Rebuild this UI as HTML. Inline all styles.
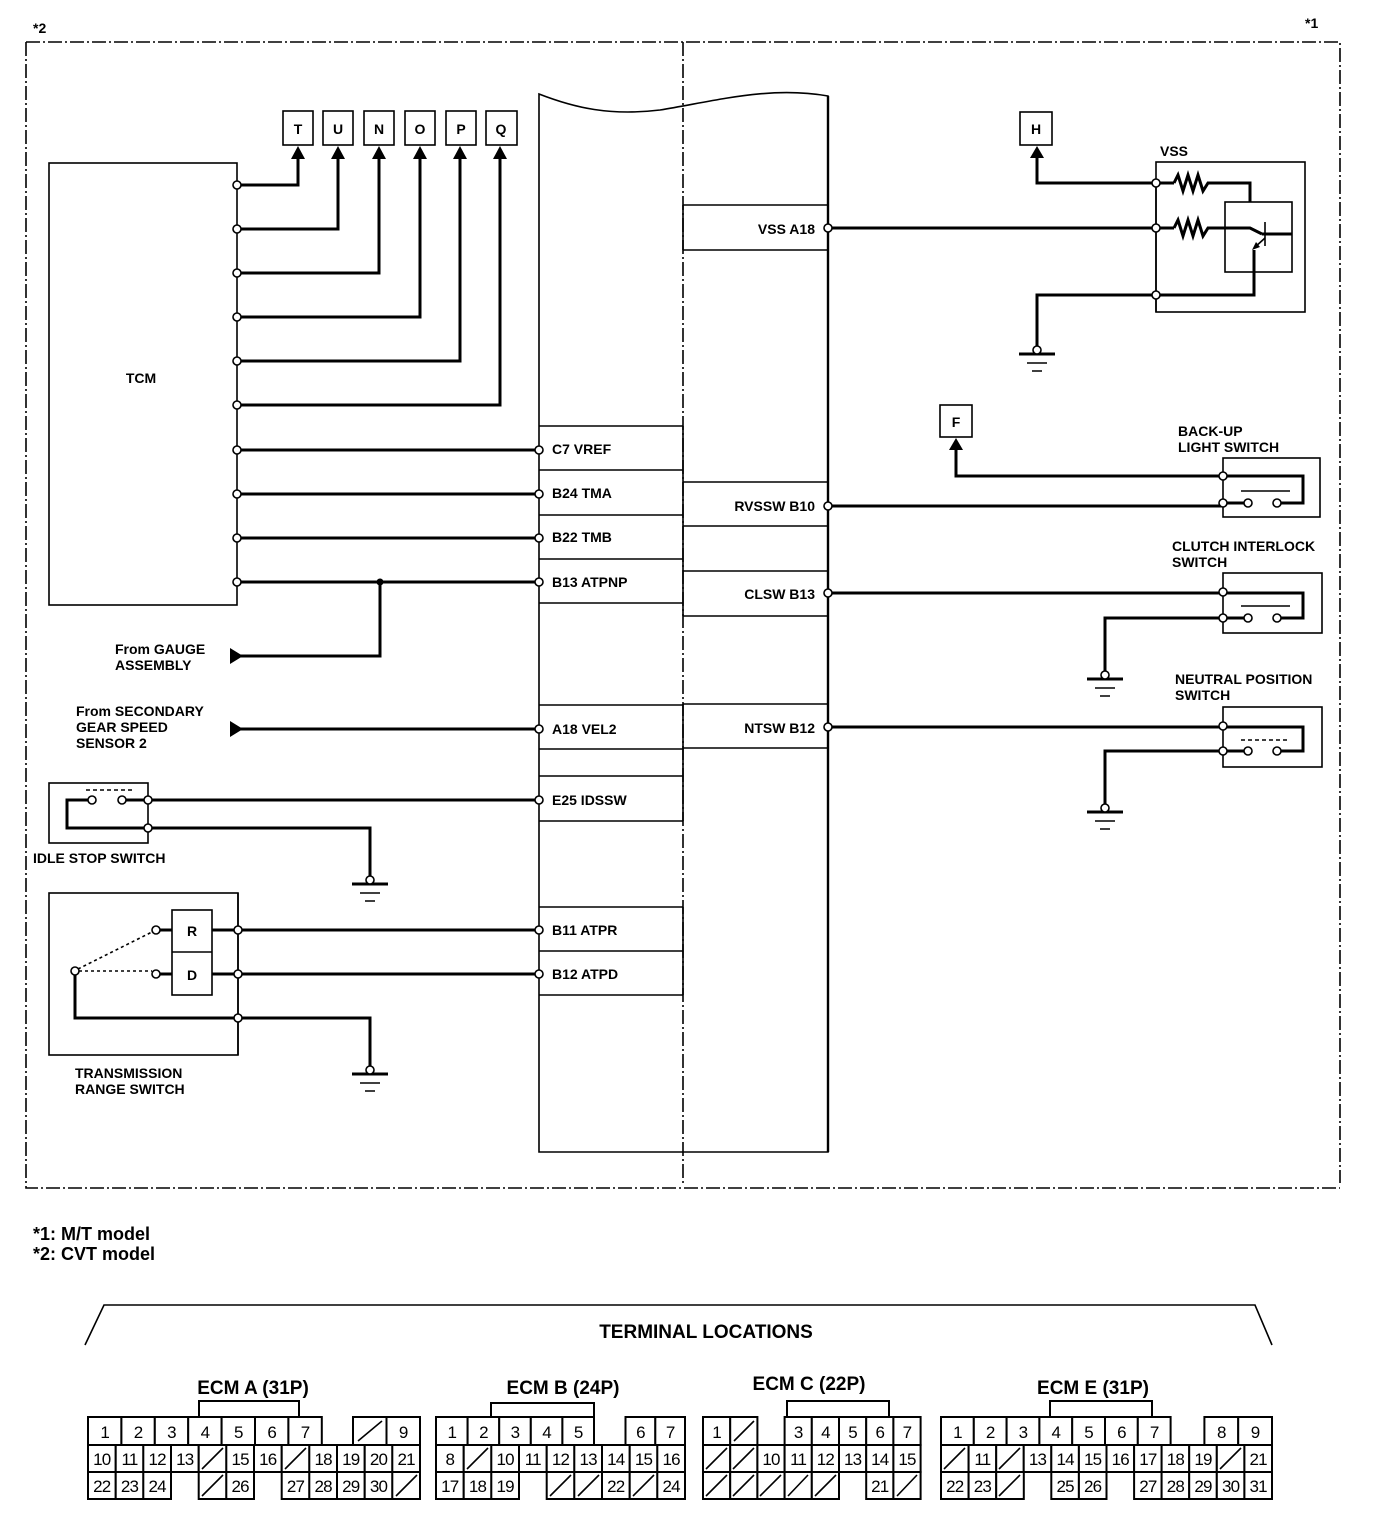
<!DOCTYPE html>
<html><head><meta charset="utf-8"><style>
html,body{margin:0;padding:0;background:#fff;}
svg{display:block;}
text{font-family:"Liberation Sans",Arial,sans-serif;fill:#000;}
.b{font-weight:bold;font-size:14px;}
.c text{font-size:17px;text-anchor:middle;letter-spacing:-0.8px;}
.c rect{fill:#fff;stroke:#000;stroke-width:2;}
.c line{stroke:#000;stroke-width:1.6;}
.w{fill:none;stroke:#000;stroke-width:3;}
.t{fill:none;stroke:#000;stroke-width:1.6;}
.n{fill:#fff;stroke:#000;stroke-width:1.6;}
</style></head><body>
<svg width="1392" height="1540" viewBox="0 0 1392 1540" xmlns="http://www.w3.org/2000/svg">
<!-- outer dashed frame -->
<g fill="none" stroke="#000" stroke-width="1.6" stroke-dasharray="14 3 2 3">
<path d="M26,42 H1340 V1183"/><path d="M26,42 V1188 H1340"/>
<path d="M683,42 V1186"/>
</g>
<text x="33" y="33" class="b">*2</text>
<text x="1305" y="28" class="b">*1</text>

<!-- ECM block -->
<path d="M539,1152 V94 C575,108 610,116 660,110 C720,100 770,86 828,96 V1152 Z" fill="none" stroke="#000" stroke-width="1.6"/>
<line x1="828" y1="96" x2="828" y2="1152" stroke="#000" stroke-width="2.4"/>
<g class="t">
<path d="M539,426 H683 M539,470 H683 M539,515 H683 M539,559 H683 M539,603 H683"/>
<path d="M539,705 H683 M539,749 H683 M539,776 H683 M539,821 H683"/>
<path d="M539,907 H683 M539,951 H683 M539,995 H683"/>
<path d="M683,205 H828 M683,250 H828 M683,482 H828 M683,526 H828 M683,571 H828 M683,616 H828 M683,704 H828 M683,748 H828"/>
<path d="M683,205 V250 M683,482 V616 M683,704 V748 M683,426 V603 M683,705 V821 M683,907 V995"/>
</g>
<g class="b">
<text x="552" y="454">C7 VREF</text>
<text x="552" y="498">B24 TMA</text>
<text x="552" y="542">B22 TMB</text>
<text x="552" y="587">B13 ATPNP</text>
<text x="552" y="734">A18 VEL2</text>
<text x="552" y="805">E25 IDSSW</text>
<text x="552" y="935">B11 ATPR</text>
<text x="552" y="979">B12 ATPD</text>
<text x="815" y="234" text-anchor="end">VSS A18</text>
<text x="815" y="511" text-anchor="end">RVSSW B10</text>
<text x="815" y="599" text-anchor="end">CLSW B13</text>
<text x="815" y="733" text-anchor="end">NTSW B12</text>
</g>

<!-- TCM -->
<rect x="49" y="163" width="188" height="442" class="t"/>
<text x="141" y="383" class="b" text-anchor="middle">TCM</text>
<g class="t" stroke-width="1.6">
<rect x="283" y="111" width="30" height="34"/><rect x="323" y="111" width="30" height="34"/>
<rect x="364" y="111" width="30" height="34"/><rect x="405" y="111" width="30" height="34"/>
<rect x="446" y="111" width="30" height="34"/><rect x="486" y="111" width="31" height="34"/>
</g>
<g class="b" text-anchor="middle">
<text x="298" y="134">T</text><text x="338" y="134">U</text><text x="379" y="134">N</text>
<text x="420" y="134">O</text><text x="461" y="134">P</text><text x="501" y="134">Q</text>
</g>
<g class="w">
<path d="M237,185 H298 V158"/><path d="M237,229 H338 V158"/><path d="M237,273 H379 V158"/>
<path d="M237,317 H420 V158"/><path d="M237,361 H460 V158"/><path d="M237,405 H500 V158"/>
<path d="M237,450 H539 M237,494 H539 M237,538 H539 M237,582 H539"/>
<path d="M380,582 V656 H240"/><path d="M240,729 H539"/>
<path d="M148,800 H539"/><path d="M148,828 H370 V876"/>
<path d="M238,930 H539 M238,974 H539"/><path d="M212,930 H238 M212,974 H238"/>
<path d="M75,975 V1018 H370 V1066"/>
<path d="M160,930 H172 M160,974 H172"/>
</g>
<g fill="#000">
<polygon points="298,146 291,159 305,159"/><polygon points="338,146 331,159 345,159"/>
<polygon points="379,146 372,159 386,159"/><polygon points="420,146 413,159 427,159"/>
<polygon points="460,146 453,159 467,159"/><polygon points="500,146 493,159 507,159"/>
<polygon points="230,648 243,656 230,664"/><polygon points="230,721 243,729 230,737"/>
<circle cx="380" cy="582" r="3.5"/>
</g>
<g class="b">
<text x="115" y="654">From GAUGE</text><text x="115" y="670">ASSEMBLY</text>
<text x="76" y="716">From SECONDARY</text><text x="76" y="732">GEAR SPEED</text><text x="76" y="748">SENSOR 2</text>
<text x="33" y="863">IDLE STOP SWITCH</text>
<text x="75" y="1078">TRANSMISSION</text><text x="75" y="1094">RANGE SWITCH</text>
</g>

<!-- idle stop switch -->
<rect x="49" y="783" width="99" height="60" class="t"/>
<path d="M92,800 H67 V828 H148" class="w"/>
<path d="M122,800 H148" class="w"/>
<line x1="86" y1="790" x2="132" y2="790" stroke="#000" stroke-width="1.6" stroke-dasharray="4 3"/>
<!-- transmission range switch -->
<rect x="49" y="893" width="189" height="162" class="t"/>
<rect x="172" y="910" width="40" height="85" class="t"/>
<line x1="172" y1="952" x2="212" y2="952" stroke="#000" stroke-width="1.6"/>
<text x="192" y="936" class="b" text-anchor="middle">R</text>
<text x="192" y="980" class="b" text-anchor="middle">D</text>
<path d="M78,969 L152,932 M79,971 H152" stroke="#000" stroke-width="1.6" stroke-dasharray="3 3" fill="none"/>
<line x1="238" y1="893" x2="238" y2="1055" stroke="#000" stroke-width="1.6"/>

<!-- grounds -->
<g>
<g transform="translate(370,880)"><path d="M-18,4 H18" stroke="#000" stroke-width="3"/><path d="M-10,13 H10 M-5,21 H5" stroke="#000" stroke-width="1.6"/><circle cx="0" cy="0" r="4" class="n"/></g>
<g transform="translate(370,1070)"><path d="M-18,4 H18" stroke="#000" stroke-width="3"/><path d="M-10,13 H10 M-5,21 H5" stroke="#000" stroke-width="1.6"/><circle cx="0" cy="0" r="4" class="n"/></g>
<g transform="translate(1037,350)"><path d="M-18,4 H18" stroke="#000" stroke-width="3"/><path d="M-10,13 H10 M-5,21 H5" stroke="#000" stroke-width="1.6"/><circle cx="0" cy="0" r="4" class="n"/></g>
<g transform="translate(1105,675)"><path d="M-18,4 H18" stroke="#000" stroke-width="3"/><path d="M-10,13 H10 M-5,21 H5" stroke="#000" stroke-width="1.6"/><circle cx="0" cy="0" r="4" class="n"/></g>
<g transform="translate(1105,808)"><path d="M-18,4 H18" stroke="#000" stroke-width="3"/><path d="M-10,13 H10 M-5,21 H5" stroke="#000" stroke-width="1.6"/><circle cx="0" cy="0" r="4" class="n"/></g>
</g>

<!-- right side: VSS -->
<rect x="1020" y="112" width="32" height="33" class="t"/>
<text x="1036" y="134" class="b" text-anchor="middle">H</text>
<polygon points="1037,146 1030,158 1044,158" fill="#000"/>
<rect x="1156" y="162" width="149" height="150" class="t"/>
<text x="1160" y="156" class="b">VSS</text>
<rect x="1225" y="202" width="67" height="70" class="t"/>
<g class="w">
<path d="M1037,156 V183 H1174"/><path d="M828,228 H1174"/>
<path d="M1174,183 L1178,175 L1183,191 L1188,175 L1193,191 L1198,175 L1203,191 L1208,183 H1250 V202"/>
<path d="M1174,228 L1178,220 L1183,236 L1188,220 L1193,236 L1198,220 L1203,236 L1208,228 H1250 L1262,234"/>
<path d="M1262,234 H1292"/>
<path d="M1156,295 H1254 V250"/>
<path d="M1156,295 H1037 V346"/>
</g>
<line x1="1156" y1="183" x2="1156" y2="312" stroke="#000" stroke-width="1.6"/>
<line x1="1265" y1="222" x2="1265" y2="246" stroke="#000" stroke-width="1.6"/>
<line x1="1265" y1="238" x2="1254" y2="248" stroke="#000" stroke-width="1.6"/>
<polygon points="1252,250 1256,242 1260,247" fill="#000"/>

<!-- back-up light switch -->
<rect x="940" y="405" width="32" height="32" class="t"/>
<text x="956" y="427" class="b" text-anchor="middle">F</text>
<polygon points="956,438 949,450 963,450" fill="#000"/>
<path d="M956,448 V476 H1223" class="w"/>
<text x="1178" y="436" class="b">BACK-UP</text><text x="1178" y="452" class="b">LIGHT SWITCH</text>
<rect x="1223" y="458" width="97" height="59" class="t"/>
<path d="M828,506 H1223 M1223,503 H1248 M1223,476 H1303 V503 H1277" class="w"/>
<line x1="1241" y1="491" x2="1290" y2="491" stroke="#000" stroke-width="1.6"/>

<!-- clutch interlock -->
<text x="1172" y="551" class="b">CLUTCH INTERLOCK</text><text x="1172" y="567" class="b">SWITCH</text>
<rect x="1223" y="573" width="99" height="60" class="t"/>
<path d="M828,593 H1303 V618 H1277 M1248,618 H1105 V671" class="w"/>
<line x1="1241" y1="606" x2="1290" y2="606" stroke="#000" stroke-width="1.6"/>

<!-- neutral position -->
<text x="1175" y="684" class="b">NEUTRAL POSITION</text><text x="1175" y="700" class="b">SWITCH</text>
<rect x="1223" y="707" width="99" height="60" class="t"/>
<path d="M828,727 H1303 V751 H1277 M1248,751 H1105 V804" class="w"/>
<line x1="1241" y1="740" x2="1290" y2="740" stroke="#000" stroke-width="1.6" stroke-dasharray="4 3"/>

<!-- nodes -->
<g class="n">
<circle cx="237" cy="185" r="4"/><circle cx="237" cy="229" r="4"/><circle cx="237" cy="273" r="4"/>
<circle cx="237" cy="317" r="4"/><circle cx="237" cy="361" r="4"/><circle cx="237" cy="405" r="4"/>
<circle cx="237" cy="450" r="4"/><circle cx="237" cy="494" r="4"/><circle cx="237" cy="538" r="4"/><circle cx="237" cy="582" r="4"/>
<circle cx="539" cy="450" r="4"/><circle cx="539" cy="494" r="4"/><circle cx="539" cy="538" r="4"/><circle cx="539" cy="582" r="4"/>
<circle cx="539" cy="729" r="4"/><circle cx="539" cy="800" r="4"/><circle cx="539" cy="930" r="4"/><circle cx="539" cy="974" r="4"/>
<circle cx="828" cy="228" r="4"/><circle cx="828" cy="506" r="4"/><circle cx="828" cy="593" r="4"/><circle cx="828" cy="727" r="4"/>
<circle cx="148" cy="800" r="4"/><circle cx="148" cy="828" r="4"/><circle cx="92" cy="800" r="4"/><circle cx="122" cy="800" r="4"/>
<circle cx="238" cy="930" r="4"/><circle cx="238" cy="974" r="4"/><circle cx="238" cy="1018" r="4"/>
<circle cx="156" cy="930" r="4"/><circle cx="156" cy="974" r="4"/><circle cx="75" cy="971" r="4"/>
<circle cx="1156" cy="183" r="4"/><circle cx="1156" cy="228" r="4"/><circle cx="1156" cy="295" r="4"/>
<circle cx="1223" cy="476" r="4"/><circle cx="1223" cy="503" r="4"/><circle cx="1248" cy="503" r="4"/><circle cx="1277" cy="503" r="4"/>
<circle cx="1223" cy="592" r="4"/><circle cx="1223" cy="618" r="4"/><circle cx="1248" cy="618" r="4"/><circle cx="1277" cy="618" r="4"/>
<circle cx="1223" cy="726" r="4"/><circle cx="1223" cy="751" r="4"/><circle cx="1248" cy="751" r="4"/><circle cx="1277" cy="751" r="4"/>
</g>

<!-- notes -->
<text x="33" y="1240" style="font-weight:bold;font-size:18px">*1: M/T model</text>
<text x="33" y="1260" style="font-weight:bold;font-size:18px">*2: CVT model</text>

<!-- terminal locations -->
<path d="M85,1345 L104,1305 H1255 L1272,1345" fill="none" stroke="#000" stroke-width="1.6"/>
<text x="706" y="1338" text-anchor="middle" style="font-weight:bold;font-size:19px">TERMINAL LOCATIONS</text>
<g style="font-weight:bold;font-size:19px" text-anchor="middle">
<text x="253" y="1394">ECM A (31P)</text><text x="563" y="1394">ECM B (24P)</text>
<text x="809" y="1390">ECM C (22P)</text><text x="1093" y="1394">ECM E (31P)</text>
</g>

<g class="c">
<!-- brackets -->
<rect x="199" y="1401" width="100" height="16"/><rect x="491" y="1403" width="103" height="14"/>
<rect x="787" y="1401" width="102" height="16"/><rect x="1050" y="1401" width="102" height="16"/>

<!-- ECM A row1 -->
<rect x="88" y="1417" width="33.4" height="28"/><text x="104.7" y="1438">1</text>
<rect x="121.4" y="1417" width="33.4" height="28"/><text x="138.1" y="1438">2</text>
<rect x="154.8" y="1417" width="33.4" height="28"/><text x="171.5" y="1438">3</text>
<rect x="188.2" y="1417" width="33.4" height="28"/><text x="204.9" y="1438">4</text>
<rect x="221.6" y="1417" width="33.4" height="28"/><text x="238.3" y="1438">5</text>
<rect x="255" y="1417" width="33.4" height="28"/><text x="271.7" y="1438">6</text>
<rect x="288.4" y="1417" width="33.4" height="28"/><text x="305.1" y="1438">7</text>
<rect x="353" y="1417" width="33.5" height="28"/><line x1="358" y1="1441" x2="382" y2="1421"/>
<rect x="386.5" y="1417" width="33.5" height="28"/><text x="403.2" y="1438">9</text>
<!-- ECM A row2 -->
<rect x="88" y="1445" width="27.7" height="27"/><text x="101.8" y="1465">10</text>
<rect x="115.7" y="1445" width="27.7" height="27"/><text x="129.5" y="1465">11</text>
<rect x="143.3" y="1445" width="27.7" height="27"/><text x="157.2" y="1465">12</text>
<rect x="171" y="1445" width="27.7" height="27"/><text x="184.8" y="1465">13</text>
<rect x="198.7" y="1445" width="27.7" height="27"/><line x1="202" y1="1469" x2="223" y2="1448"/>
<rect x="226.3" y="1445" width="27.7" height="27"/><text x="240.2" y="1465">15</text>
<rect x="254" y="1445" width="27.7" height="27"/><text x="267.8" y="1465">16</text>
<rect x="281.7" y="1445" width="27.7" height="27"/><line x1="285" y1="1469" x2="306" y2="1448"/>
<rect x="309.3" y="1445" width="27.7" height="27"/><text x="323.2" y="1465">18</text>
<rect x="337" y="1445" width="27.7" height="27"/><text x="350.8" y="1465">19</text>
<rect x="364.7" y="1445" width="27.7" height="27"/><text x="378.5" y="1465">20</text>
<rect x="392.3" y="1445" width="27.7" height="27"/><text x="406.2" y="1465">21</text>
<!-- ECM A row3 -->
<rect x="88" y="1472" width="27.7" height="27"/><text x="101.8" y="1492">22</text>
<rect x="115.7" y="1472" width="27.7" height="27"/><text x="129.5" y="1492">23</text>
<rect x="143.3" y="1472" width="27.7" height="27"/><text x="157.2" y="1492">24</text>
<rect x="198.7" y="1472" width="27.7" height="27"/><line x1="202" y1="1496" x2="223" y2="1475"/>
<rect x="226.3" y="1472" width="27.7" height="27"/><text x="240.2" y="1492">26</text>
<rect x="281.7" y="1472" width="27.7" height="27"/><text x="295.5" y="1492">27</text>
<rect x="309.3" y="1472" width="27.7" height="27"/><text x="323.2" y="1492">28</text>
<rect x="337" y="1472" width="27.7" height="27"/><text x="350.8" y="1492">29</text>
<rect x="364.7" y="1472" width="27.7" height="27"/><text x="378.5" y="1492">30</text>
<rect x="392.3" y="1472" width="27.7" height="27"/><line x1="396" y1="1496" x2="417" y2="1475"/>

<!-- ECM B row1 -->
<rect x="436" y="1417" width="31.6" height="28"/><text x="451.8" y="1438">1</text>
<rect x="467.6" y="1417" width="31.6" height="28"/><text x="483.4" y="1438">2</text>
<rect x="499.2" y="1417" width="31.6" height="28"/><text x="515" y="1438">3</text>
<rect x="530.8" y="1417" width="31.6" height="28"/><text x="546.6" y="1438">4</text>
<rect x="562.4" y="1417" width="31.6" height="28"/><text x="578.2" y="1438">5</text>
<rect x="625.5" y="1417" width="29.8" height="28"/><text x="640.4" y="1438">6</text>
<rect x="655.3" y="1417" width="29.7" height="28"/><text x="670.2" y="1438">7</text>
<!-- ECM B row2 -->
<rect x="436" y="1445" width="27.7" height="27"/><text x="449.8" y="1465">8</text>
<rect x="463.7" y="1445" width="27.7" height="27"/><line x1="467" y1="1469" x2="488" y2="1448"/>
<rect x="491.3" y="1445" width="27.7" height="27"/><text x="505.2" y="1465">10</text>
<rect x="519" y="1445" width="27.7" height="27"/><text x="532.8" y="1465">11</text>
<rect x="546.7" y="1445" width="27.7" height="27"/><text x="560.5" y="1465">12</text>
<rect x="574.3" y="1445" width="27.7" height="27"/><text x="588.2" y="1465">13</text>
<rect x="602" y="1445" width="27.7" height="27"/><text x="615.8" y="1465">14</text>
<rect x="629.7" y="1445" width="27.7" height="27"/><text x="643.5" y="1465">15</text>
<rect x="657.3" y="1445" width="27.7" height="27"/><text x="671.2" y="1465">16</text>
<!-- ECM B row3 -->
<rect x="436" y="1472" width="27.7" height="27"/><text x="449.8" y="1492">17</text>
<rect x="463.7" y="1472" width="27.7" height="27"/><text x="477.5" y="1492">18</text>
<rect x="491.3" y="1472" width="27.7" height="27"/><text x="505.2" y="1492">19</text>
<rect x="546.7" y="1472" width="27.7" height="27"/><line x1="550" y1="1496" x2="571" y2="1475"/>
<rect x="574.3" y="1472" width="27.7" height="27"/><line x1="578" y1="1496" x2="599" y2="1475"/>
<rect x="602" y="1472" width="27.7" height="27"/><text x="615.8" y="1492">22</text>
<rect x="629.7" y="1472" width="27.7" height="27"/><line x1="633" y1="1496" x2="654" y2="1475"/>
<rect x="657.3" y="1472" width="27.7" height="27"/><text x="671.2" y="1492">24</text>

<!-- ECM C row1 -->
<rect x="703" y="1417" width="27.2" height="28"/><text x="716.6" y="1438">1</text>
<rect x="730.2" y="1417" width="27.2" height="28"/><line x1="734" y1="1441" x2="754" y2="1421"/>
<rect x="784.6" y="1417" width="27.2" height="28"/><text x="798.2" y="1438">3</text>
<rect x="811.8" y="1417" width="27.2" height="28"/><text x="825.4" y="1438">4</text>
<rect x="839" y="1417" width="27.2" height="28"/><text x="852.6" y="1438">5</text>
<rect x="866.2" y="1417" width="27.2" height="28"/><text x="879.8" y="1438">6</text>
<rect x="893.4" y="1417" width="27.2" height="28"/><text x="907" y="1438">7</text>
<!-- ECM C row2 -->
<rect x="703" y="1445" width="27.2" height="27"/><line x1="706" y1="1469" x2="727" y2="1448"/>
<rect x="730.2" y="1445" width="27.2" height="27"/><line x1="733" y1="1469" x2="754" y2="1448"/>
<rect x="757.4" y="1445" width="27.2" height="27"/><text x="771" y="1465">10</text>
<rect x="784.6" y="1445" width="27.2" height="27"/><text x="798.2" y="1465">11</text>
<rect x="811.8" y="1445" width="27.2" height="27"/><text x="825.4" y="1465">12</text>
<rect x="839" y="1445" width="27.2" height="27"/><text x="852.6" y="1465">13</text>
<rect x="866.2" y="1445" width="27.2" height="27"/><text x="879.8" y="1465">14</text>
<rect x="893.4" y="1445" width="27.2" height="27"/><text x="907" y="1465">15</text>
<!-- ECM C row3 -->
<rect x="703" y="1472" width="27.2" height="27"/><line x1="706" y1="1496" x2="727" y2="1475"/>
<rect x="730.2" y="1472" width="27.2" height="27"/><line x1="733" y1="1496" x2="754" y2="1475"/>
<rect x="757.4" y="1472" width="27.2" height="27"/><line x1="760" y1="1496" x2="781" y2="1475"/>
<rect x="784.6" y="1472" width="27.2" height="27"/><line x1="788" y1="1496" x2="808" y2="1475"/>
<rect x="811.8" y="1472" width="27.2" height="27"/><line x1="815" y1="1496" x2="836" y2="1475"/>
<rect x="866.2" y="1472" width="27.2" height="27"/><text x="879.8" y="1492">21</text>
<rect x="893.4" y="1472" width="27.2" height="27"/><line x1="897" y1="1496" x2="917" y2="1475"/>

<!-- ECM E row1 -->
<rect x="941" y="1417" width="32.8" height="28"/><text x="957.4" y="1438">1</text>
<rect x="973.8" y="1417" width="32.8" height="28"/><text x="990.2" y="1438">2</text>
<rect x="1006.6" y="1417" width="32.8" height="28"/><text x="1023" y="1438">3</text>
<rect x="1039.4" y="1417" width="32.8" height="28"/><text x="1055.8" y="1438">4</text>
<rect x="1072.2" y="1417" width="32.8" height="28"/><text x="1088.6" y="1438">5</text>
<rect x="1105" y="1417" width="32.8" height="28"/><text x="1121.4" y="1438">6</text>
<rect x="1137.8" y="1417" width="32.8" height="28"/><text x="1154.2" y="1438">7</text>
<rect x="1204.4" y="1417" width="33.8" height="28"/><text x="1221.3" y="1438">8</text>
<rect x="1238.2" y="1417" width="33.8" height="28"/><text x="1255.1" y="1438">9</text>
<!-- ECM E row2 -->
<rect x="941" y="1445" width="27.6" height="27"/><line x1="944" y1="1469" x2="965" y2="1448"/>
<rect x="968.6" y="1445" width="27.6" height="27"/><text x="982.4" y="1465">11</text>
<rect x="996.2" y="1445" width="27.6" height="27"/><line x1="999" y1="1469" x2="1020" y2="1448"/>
<rect x="1023.7" y="1445" width="27.6" height="27"/><text x="1037.5" y="1465">13</text>
<rect x="1051.3" y="1445" width="27.6" height="27"/><text x="1065.1" y="1465">14</text>
<rect x="1078.9" y="1445" width="27.6" height="27"/><text x="1092.7" y="1465">15</text>
<rect x="1106.5" y="1445" width="27.6" height="27"/><text x="1120.3" y="1465">16</text>
<rect x="1134.1" y="1445" width="27.6" height="27"/><text x="1147.9" y="1465">17</text>
<rect x="1161.6" y="1445" width="27.6" height="27"/><text x="1175.4" y="1465">18</text>
<rect x="1189.2" y="1445" width="27.6" height="27"/><text x="1203" y="1465">19</text>
<rect x="1216.8" y="1445" width="27.6" height="27"/><line x1="1220" y1="1469" x2="1241" y2="1448"/>
<rect x="1244.4" y="1445" width="27.6" height="27"/><text x="1258.2" y="1465">21</text>
<!-- ECM E row3 -->
<rect x="941" y="1472" width="27.6" height="27"/><text x="954.8" y="1492">22</text>
<rect x="968.6" y="1472" width="27.6" height="27"/><text x="982.4" y="1492">23</text>
<rect x="996.2" y="1472" width="27.6" height="27"/><line x1="999" y1="1496" x2="1020" y2="1475"/>
<rect x="1051.3" y="1472" width="27.6" height="27"/><text x="1065.1" y="1492">25</text>
<rect x="1078.9" y="1472" width="27.6" height="27"/><text x="1092.7" y="1492">26</text>
<rect x="1134.1" y="1472" width="27.6" height="27"/><text x="1147.9" y="1492">27</text>
<rect x="1161.6" y="1472" width="27.6" height="27"/><text x="1175.4" y="1492">28</text>
<rect x="1189.2" y="1472" width="27.6" height="27"/><text x="1203" y="1492">29</text>
<rect x="1216.8" y="1472" width="27.6" height="27"/><text x="1230.6" y="1492">30</text>
<rect x="1244.4" y="1472" width="27.6" height="27"/><text x="1258.2" y="1492">31</text>
</g>
</svg>
</body></html>
